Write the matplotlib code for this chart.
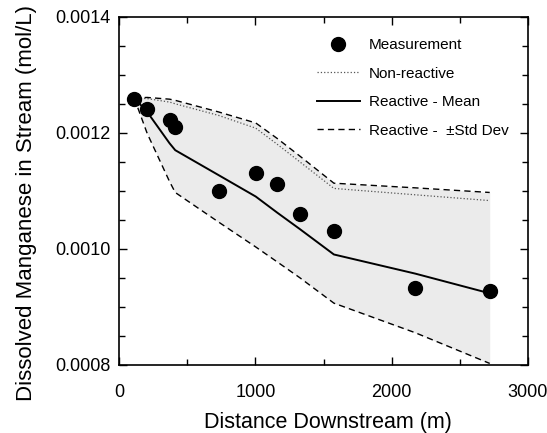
import numpy as np
import matplotlib
matplotlib.use("Agg")
import matplotlib.pyplot as plt
from matplotlib.ticker import MultipleLocator

plt.rcParams['font.family'] = ['Liberation Sans', 'DejaVu Sans']

# measurement distances (m) and concentrations (mol/L)
dist = [110, 205, 369, 411, 729, 1002, 1161, 1325, 1576, 2173, 2720]
meas = [0.001259, 0.001241, 0.001222, 0.001210, 0.001100, 0.001131,
        0.001112, 0.001060, 0.001030, 0.000932, 0.000927]

# simulated profiles at the same distances
nonreactive = [0.001260, 0.001259, 0.001253, 0.001250, 0.001230, 0.001208,
               0.001180, 0.001150, 0.001104, 0.001093, 0.001083]
mean = [0.001260, 0.001236, 0.001182, 0.001170, 0.001127, 0.001090,
        0.001062, 0.001034, 0.000990, 0.000957, 0.000923]
upper = [0.001260, 0.001261, 0.001258, 0.001256, 0.001236, 0.001217,
         0.001190, 0.001160, 0.001113, 0.001105, 0.001097]
lower = [0.001260, 0.001199, 0.001116, 0.001097, 0.001046, 0.001003,
         0.000977, 0.000950, 0.000906, 0.000855, 0.000802]

fig = plt.figure(figsize=(5.47, 4.33), dpi=100)
ax = fig.add_axes([0.218, 0.158, 0.747, 0.803])

ax.fill_between(dist, lower, upper, color='#ebebeb', lw=0, zorder=1)
ax.plot(dist, meas, 'o', color='black', ms=10, label='Measurement', zorder=5)
ax.plot(dist, nonreactive, ':', color='#555555', lw=0.9, label='Non-reactive', zorder=3)
ax.plot(dist, mean, '-', color='black', lw=1.4, label='Reactive - Mean', zorder=4)
ax.plot(dist, upper, '--', color='black', lw=1.0, dashes=(4.5, 3),
        label='Reactive -  \u00b1Std Dev', zorder=3)
ax.plot(dist, lower, '--', color='black', lw=1.0, dashes=(4.5, 3), zorder=3)

ax.set_xlim(0, 3000)
ax.set_ylim(0.0008, 0.0014)
ax.xaxis.set_major_locator(MultipleLocator(1000))
ax.xaxis.set_minor_locator(MultipleLocator(500))
ax.yaxis.set_major_locator(MultipleLocator(0.0002))
ax.yaxis.set_minor_locator(MultipleLocator(0.00005))
ax.yaxis.set_major_formatter(matplotlib.ticker.FormatStrFormatter('%.4f'))
ax.tick_params(which='both', direction='in', top=True, right=True,
               labelsize=13, width=1)
ax.tick_params(which='major', length=6)
ax.tick_params(which='minor', length=4)
ax.tick_params(axis='y', which='major', pad=6)
ax.tick_params(axis='x', which='major', pad=14)
for s in ax.spines.values():
    s.set_linewidth(1.2)

ax.set_xlabel('Distance Downstream (m)', fontsize=15.5)
ax.set_ylabel('Dissolved Manganese in Stream (mol/L)', fontsize=16)
ax.xaxis.set_label_coords(0.511, -0.136)
ax.yaxis.set_label_coords(-0.201, 0.464)

leg = ax.legend(loc='upper right', bbox_to_anchor=(0.987, 0.978), frameon=False,
                fontsize=11, handlelength=2.8, labelspacing=0.95, handletextpad=0.6)

fig.savefig('out.png', dpi=100)
